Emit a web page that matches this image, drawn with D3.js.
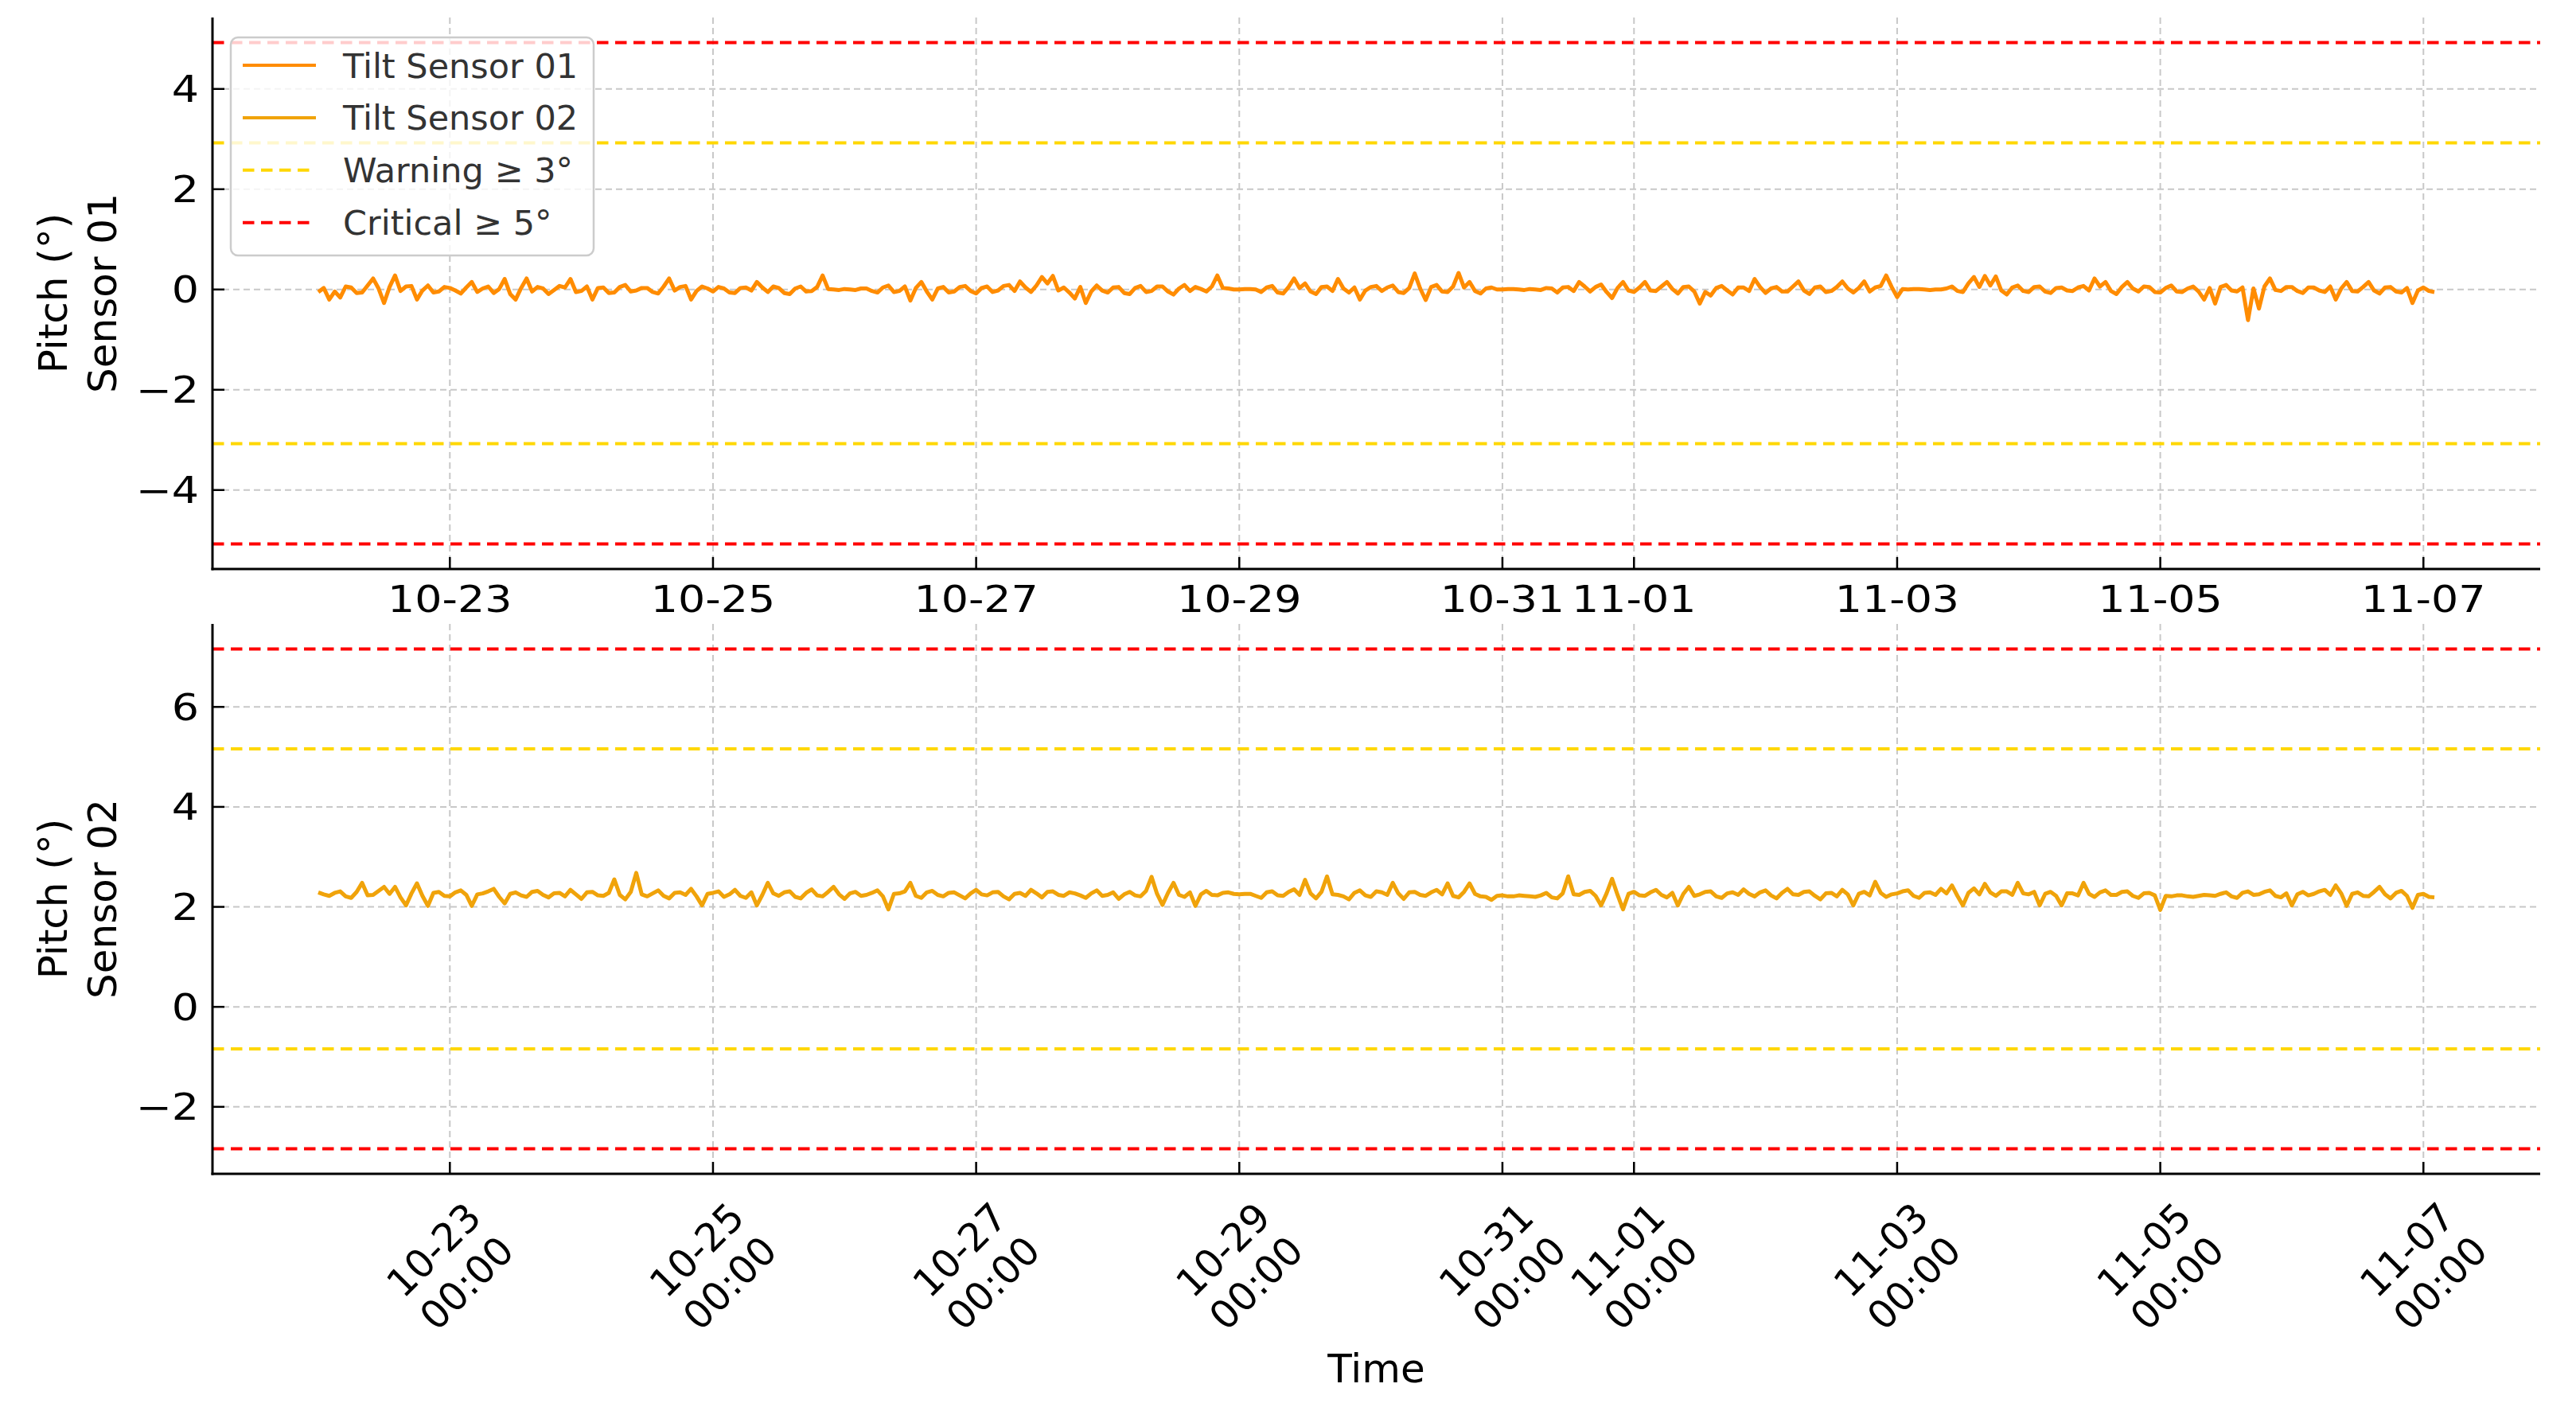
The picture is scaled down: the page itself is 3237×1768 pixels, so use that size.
<!DOCTYPE html>
<html><head><meta charset="utf-8">
<script src="https://cdn.jsdelivr.net/npm/d3@7"></script>
<style>body{margin:0;background:#fff} text{font-family:"DejaVu Sans",sans-serif}</style>
</head><body><svg id="c" width="3237" height="1768"></svg>
<script>
// ---- data (hourly samples from 2024-10-22 00:00 UTC) ----
const startTime = "2024-10-22T00:00:00Z";
const stepHours = 1;
const sensor01 = [
-0.05,0.03,-0.20,-0.04,-0.16,0.06,0.04,-0.07,-0.06,0.08,0.22,0.02,-0.27,0.05,0.28,-0.03,0.06,0.07,-0.20,-0.02,
0.08,-0.06,-0.04,0.05,0.03,-0.02,-0.08,0.04,0.15,-0.05,0.02,0.06,-0.07,0.01,0.21,-0.09,-0.20,0.03,0.22,-0.04,
0.05,0.02,-0.09,-0.01,0.07,0.04,0.21,-0.05,-0.03,0.06,-0.20,0.03,0.04,-0.07,-0.06,0.05,0.09,-0.04,-0.02,0.03,
0.03,-0.05,-0.08,0.06,0.22,-0.02,0.05,0.07,-0.20,-0.03,0.06,0.02,-0.04,0.05,0.02,-0.06,-0.07,0.03,0.04,-0.02,
0.15,0.04,-0.05,0.06,0.03,-0.07,-0.09,0.02,0.06,-0.04,-0.03,0.05,0.28,0.01,0.00,-0.01,0.01,0.00,-0.01,0.02,
0.02,-0.03,-0.06,0.04,0.08,-0.05,-0.03,0.06,-0.22,0.03,0.15,-0.04,-0.20,0.02,0.05,-0.06,-0.04,0.05,0.07,-0.03,
-0.08,0.03,0.06,-0.05,-0.02,0.07,0.09,-0.03,0.16,0.04,-0.05,0.08,0.25,0.12,0.27,-0.02,0.04,-0.06,-0.18,0.05,
-0.27,-0.04,0.08,-0.02,-0.06,0.04,0.05,-0.07,-0.09,0.03,0.07,-0.05,-0.03,0.06,0.06,-0.04,-0.10,0.02,0.09,-0.03,
0.05,0.01,-0.04,0.06,0.28,0.03,0.02,0.00,0.00,0.01,0.01,0.00,-0.05,0.04,0.07,-0.06,-0.08,0.05,0.22,0.03,
0.12,-0.04,-0.09,0.05,0.06,-0.03,0.21,0.02,-0.06,0.04,-0.20,-0.02,0.05,0.07,-0.03,0.04,0.08,-0.05,-0.07,0.03,
0.32,0.02,-0.21,0.05,0.09,-0.04,-0.05,0.06,0.33,0.04,0.15,-0.03,-0.08,0.02,0.04,0.00,0.00,0.01,0.01,0.00,
-0.01,0.01,0.00,-0.01,0.03,0.02,-0.06,0.04,0.05,-0.03,0.15,0.06,-0.04,0.05,0.10,-0.05,-0.17,0.03,0.15,-0.02,
-0.05,0.04,0.15,-0.02,-0.03,0.06,0.15,0.01,-0.08,0.05,0.06,-0.04,-0.28,-0.05,-0.12,0.03,0.07,-0.02,-0.10,0.04,
0.04,-0.03,0.21,0.05,-0.07,0.02,0.05,-0.04,-0.04,0.06,0.16,-0.02,-0.09,0.04,0.06,-0.05,-0.03,0.05,0.16,0.02,
-0.06,0.03,0.16,-0.04,0.04,0.07,0.28,0.05,-0.15,0.01,0.00,0.01,0.01,0.00,-0.01,0.00,0.00,0.02,0.06,-0.03,
-0.05,0.12,0.25,0.05,0.27,0.08,0.26,-0.02,-0.10,0.04,0.08,-0.03,-0.05,0.05,0.06,-0.04,-0.07,0.03,0.04,-0.02,
-0.03,0.04,0.07,-0.02,0.22,0.06,0.15,-0.03,-0.09,0.05,0.15,0.02,-0.04,0.06,0.05,-0.05,-0.06,0.03,0.08,-0.04,
-0.05,0.02,0.06,-0.04,-0.20,0.03,-0.28,0.05,0.09,-0.02,-0.04,0.04,-0.61,0.02,-0.38,0.06,0.22,-0.01,-0.03,0.05,
0.05,-0.03,-0.07,0.04,0.04,-0.02,-0.05,0.06,-0.20,0.02,0.15,-0.03,-0.04,0.05,0.15,-0.02,-0.08,0.04,0.05,-0.04,
-0.06,0.03,-0.27,-0.02,0.04,-0.03,-0.05
];
const sensor02 = [
2.29,2.25,2.22,2.28,2.31,2.21,2.18,2.30,2.48,2.23,2.24,2.32,2.40,2.26,2.40,2.19,2.03,2.27,2.47,2.22,
2.02,2.28,2.30,2.22,2.21,2.29,2.33,2.24,2.02,2.25,2.27,2.31,2.36,2.20,2.07,2.26,2.29,2.23,2.20,2.30,
2.32,2.24,2.19,2.27,2.28,2.21,2.34,2.25,2.16,2.29,2.30,2.23,2.22,2.28,2.55,2.24,2.15,2.30,2.68,2.25,
2.21,2.27,2.33,2.22,2.17,2.28,2.29,2.24,2.36,2.21,2.03,2.26,2.28,2.31,2.20,2.25,2.34,2.22,2.18,2.29,
2.03,2.24,2.48,2.27,2.22,2.29,2.31,2.20,2.17,2.28,2.35,2.23,2.21,2.30,2.40,2.25,2.16,2.27,2.30,2.22,
2.24,2.28,2.33,2.21,1.95,2.26,2.27,2.31,2.48,2.22,2.18,2.29,2.32,2.24,2.21,2.28,2.29,2.23,2.17,2.27,
2.34,2.25,2.23,2.29,2.30,2.21,2.15,2.26,2.28,2.22,2.34,2.27,2.19,2.30,2.31,2.24,2.22,2.29,2.27,2.23,
2.18,2.27,2.33,2.22,2.24,2.29,2.16,2.25,2.30,2.23,2.21,2.32,2.60,2.26,2.04,2.28,2.48,2.24,2.20,2.29,
2.02,2.25,2.32,2.24,2.23,2.28,2.29,2.26,2.25,2.26,2.26,2.22,2.18,2.29,2.31,2.23,2.22,2.30,2.35,2.24,
2.54,2.27,2.17,2.30,2.61,2.25,2.24,2.21,2.15,2.28,2.33,2.23,2.20,2.31,2.29,2.24,2.48,2.27,2.16,2.29,
2.30,2.24,2.22,2.29,2.34,2.25,2.47,2.22,2.19,2.30,2.47,2.26,2.21,2.20,2.14,2.22,2.23,2.21,2.21,2.23,
2.22,2.21,2.20,2.23,2.28,2.19,2.17,2.27,2.61,2.25,2.24,2.30,2.32,2.22,2.03,2.27,2.56,2.24,1.95,2.26,
2.30,2.23,2.22,2.29,2.34,2.24,2.19,2.28,2.03,2.26,2.40,2.22,2.25,2.30,2.31,2.21,2.18,2.27,2.29,2.24,
2.35,2.26,2.21,2.29,2.33,2.23,2.17,2.28,2.36,2.25,2.24,2.30,2.31,2.22,2.15,2.27,2.28,2.21,2.34,2.25,
2.03,2.26,2.30,2.23,2.50,2.28,2.20,2.25,2.27,2.31,2.33,2.22,2.18,2.28,2.29,2.24,2.36,2.27,2.43,2.22,
2.03,2.28,2.37,2.25,2.46,2.29,2.22,2.31,2.31,2.24,2.48,2.27,2.25,2.30,2.03,2.26,2.30,2.22,2.03,2.27,
2.27,2.23,2.48,2.26,2.20,2.29,2.33,2.24,2.24,2.30,2.31,2.22,2.18,2.27,2.28,2.23,1.94,2.22,2.21,2.23,
2.23,2.21,2.20,2.22,2.24,2.23,2.22,2.26,2.29,2.21,2.18,2.28,2.31,2.24,2.25,2.30,2.33,2.22,2.19,2.27,
2.03,2.25,2.30,2.23,2.26,2.31,2.34,2.24,2.43,2.27,2.02,2.26,2.29,2.22,2.21,2.30,2.40,2.25,2.17,2.28,
2.32,2.22,1.98,2.24,2.26,2.20,2.19
];
const tickDates = ["2024-10-23","2024-10-25","2024-10-27","2024-10-29","2024-10-31","2024-11-01","2024-11-03","2024-11-05","2024-11-07"];
const tickLabels = ["10-23","10-25","10-27","10-29","10-31","11-01","11-03","11-05","11-07"];
const tickTimeLabel = "00:00";
const yTicks01 = [-4,-2,0,2,4];
const yTicks02 = [-2,0,2,4,6];
const warning01 = [2.925,-3.075];
const critical01 = [4.925,-5.075];
const warning02 = [5.16,-0.84];
const critical02 = [7.16,-2.84];
const seriesNames = ["Tilt Sensor 01","Tilt Sensor 02"];
const seriesColors = ["#ff8c00","#f0a30a"];
const legendLabels = ["Tilt Sensor 01","Tilt Sensor 02","Warning \u2265 3\u00b0","Critical \u2265 5\u00b0"];
const yLabels = [["Pitch (\u00b0)","Sensor 01"],["Pitch (\u00b0)","Sensor 02"]];
const xLabel = "Time";

// ---- layout ----
const svg = d3.select("#c");
const L = 267, R = 3192;
const panels = [
  {top:22, bottom:715, data:sensor01, warn:warning01, crit:critical01, yt:yTicks01, color:seriesColors[0], yl:yLabels[0], rotated:false},
  {top:784, bottom:1475, data:sensor02, warn:warning02, crit:critical02, yt:yTicks02, color:seriesColors[1], yl:yLabels[1], rotated:true}
];
const t0 = new Date(startTime).getTime();
const times = sensor01.map((_, i) => new Date(t0 + i*stepHours*3600e3));
const ext = d3.extent(times);
const span = ext[1] - ext[0];
const x = d3.scaleUtc().domain([new Date(+ext[0] - 0.05*span), new Date(+ext[1] + 0.05*span)]).range([L, R]);
const ticks = tickDates.map(d => new Date(d + "T00:00:00Z"));
const tickFs = 46, stretch = 1.17, rotFs = 49;

const minus = v => (v < 0 ? "\u2212" + Math.abs(v) : String(v));

panels.forEach((p, pi) => {
  const lo = Math.min(...p.crit), hi = Math.max(...p.crit);
  const pad = 0.05*(hi - lo);
  const y = d3.scaleLinear().domain([lo - pad, hi + pad]).range([p.bottom, p.top]);
  const g = svg.append("g");
  // grid
  g.selectAll(".gx").data(ticks).join("line")
    .attr("x1", d => x(d)).attr("x2", d => x(d)).attr("y1", p.top).attr("y2", p.bottom)
    .attr("stroke", "#c8c8c8").attr("stroke-width", 2).attr("stroke-dasharray", "8,5");
  g.selectAll(".gy").data(p.yt).join("line")
    .attr("x1", L).attr("x2", R).attr("y1", d => y(d)).attr("y2", d => y(d))
    .attr("stroke", "#c8c8c8").attr("stroke-width", 2).attr("stroke-dasharray", "8,5");
  // data line
  const line = d3.line().x((d, i) => x(times[i])).y(d => y(d));
  g.append("path").datum(p.data).attr("d", line).attr("fill", "none")
    .attr("stroke", p.color).attr("stroke-width", 5).attr("stroke-linejoin", "round");
  // threshold lines
  p.warn.forEach(v => g.append("line").attr("x1", L).attr("x2", R).attr("y1", y(v)).attr("y2", y(v))
    .attr("stroke", "#ffd700").attr("stroke-width", 4).attr("stroke-dasharray", "14.5,8.5"));
  p.crit.forEach(v => g.append("line").attr("x1", L).attr("x2", R).attr("y1", y(v)).attr("y2", y(v))
    .attr("stroke", "#ff0000").attr("stroke-width", 4).attr("stroke-dasharray", "14.5,8.5"));
  // spines
  g.append("line").attr("x1", L).attr("x2", L).attr("y1", p.top).attr("y2", p.bottom + 1.5).attr("stroke", "#000").attr("stroke-width", 3);
  g.append("line").attr("x1", L - 1.5).attr("x2", R).attr("y1", p.bottom).attr("y2", p.bottom).attr("stroke", "#000").attr("stroke-width", 3);
  // ticks (inward)
  g.selectAll(".tx").data(ticks).join("line")
    .attr("x1", d => x(d)).attr("x2", d => x(d)).attr("y1", p.bottom).attr("y2", p.bottom - 15)
    .attr("stroke", "#000").attr("stroke-width", 2.5);
  g.selectAll(".ty").data(p.yt).join("line")
    .attr("x1", L).attr("x2", L + 15).attr("y1", d => y(d)).attr("y2", d => y(d))
    .attr("stroke", "#000").attr("stroke-width", 2.5);
  // y tick labels
  g.selectAll(".yl").data(p.yt).join("text")
    .attr("transform", d => `translate(250,${y(d) + 0.36*tickFs}) scale(${stretch},1)`)
    .attr("text-anchor", "end").attr("font-size", tickFs).attr("fill", "#000")
    .text(d => minus(d));
  // x tick labels
  if (!p.rotated) {
    g.selectAll(".xl").data(ticks).join("text")
      .attr("transform", d => `translate(${x(d)},${p.bottom + 20 + 0.73*tickFs}) scale(${stretch},1)`)
      .attr("text-anchor", "middle").attr("font-size", tickFs).attr("fill", "#000")
      .text((d, i) => tickLabels[i]);
  } else {
    const lh = 1.2*rotFs;
    const cy = p.bottom + 28 + 88;
    ticks.forEach((d, i) => {
      const t = g.append("text").attr("transform", `translate(${x(d)},${cy}) rotate(-45)`)
        .attr("text-anchor", "middle").attr("font-size", rotFs).attr("fill", "#000");
      t.append("tspan").attr("x", 0).attr("y", -lh/2 + 0.36*rotFs).text(tickLabels[i]);
      t.append("tspan").attr("x", 0).attr("y", lh/2 + 0.36*rotFs).text(tickTimeLabel);
    });
  }
  // y axis label
  const cyl = (p.top + p.bottom)/2;
  g.append("text").attr("transform", `translate(84,${cyl}) rotate(-90)`).attr("text-anchor", "middle")
    .attr("font-size", 50).attr("fill", "#000").text(p.yl[0]);
  g.append("text").attr("transform", `translate(146,${cyl}) rotate(-90)`).attr("text-anchor", "middle")
    .attr("font-size", 50).attr("fill", "#000").text(p.yl[1]);
});

// x axis label
svg.append("text").attr("x", (L + R)/2).attr("y", 1737).attr("text-anchor", "middle")
  .attr("font-size", 50).attr("fill", "#000").text(xLabel);

// legend
const lg = svg.append("g");
lg.append("rect").attr("x", 290).attr("y", 47).attr("width", 456).attr("height", 274).attr("rx", 9)
  .attr("fill", "#fff").attr("fill-opacity", 0.8).attr("stroke", "#cccccc").attr("stroke-width", 2.5);
const legendStyles = [
  {c: seriesColors[0], dash: null},
  {c: seriesColors[1], dash: null},
  {c: "#ffd700", dash: "14.5,8.5"},
  {c: "#ff0000", dash: "14.5,8.5"}
];
legendLabels.forEach((lab, i) => {
  const cy = 82 + i*65.9;
  lg.append("line").attr("x1", 305).attr("x2", 397).attr("y1", cy).attr("y2", cy)
    .attr("stroke", legendStyles[i].c).attr("stroke-width", 4)
    .attr("stroke-dasharray", legendStyles[i].dash);
  lg.append("text").attr("x", 431).attr("y", cy + 15.5).attr("font-size", 43).attr("fill", "#333").text(lab);
});
</script></body></html>
